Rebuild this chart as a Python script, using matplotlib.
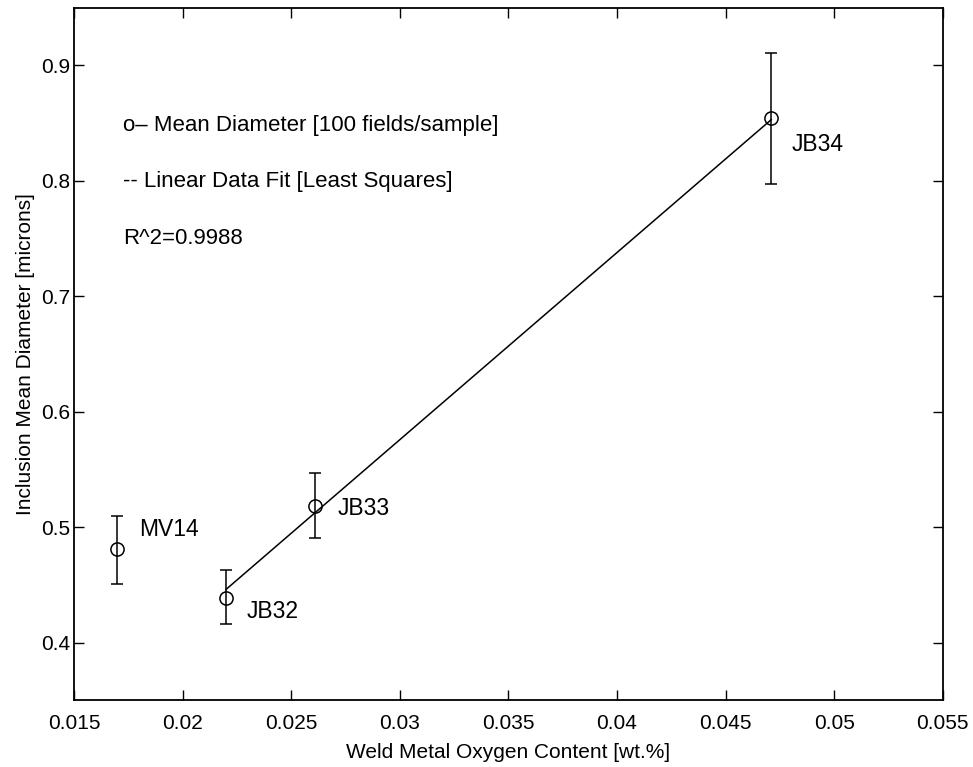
import matplotlib
matplotlib.use("Agg")
import matplotlib.pyplot as plt

plt.rcParams['font.family'] = ['Liberation Sans', 'DejaVu Sans']

# samples
samples = ["MV14", "JB32", "JB33", "JB34"]
oxygen = [0.017, 0.022, 0.0261, 0.0471]
diameter = [0.481, 0.439, 0.518, 0.854]
err_low = [0.030, 0.023, 0.027, 0.057]
err_high = [0.029, 0.024, 0.029, 0.057]

# least squares line, end points
fit_x = [0.022, 0.0471]
fit_y = [0.446, 0.853]

x_ticks = [0.015, 0.02, 0.025, 0.03, 0.035, 0.04, 0.045, 0.05, 0.055]
x_tick_labels = ["0.015", "0.02", "0.025", "0.03", "0.035", "0.04", "0.045", "0.05", "0.055"]
y_ticks = [0.4, 0.5, 0.6, 0.7, 0.8, 0.9]

notes = ["o\u2013 Mean Diameter [100 fields/sample]",
         "-- Linear Data Fit [Least Squares]",
         "R^2=0.9988"]
note_y = [0.848, 0.799, 0.750]

label_offsets = {"MV14": (16, 14), "JB32": (15, -10), "JB33": (16, -1.5), "JB34": (15, -19)}

fig = plt.figure(figsize=(9.73, 7.67), dpi=100)
ax = fig.add_axes([0.076, 0.087, 0.893, 0.903])

ax.errorbar(oxygen, diameter, yerr=[err_low, err_high], fmt='o', mfc='none',
            mec='black', ecolor='black', color='black', ms=9.5, mew=1.1,
            elinewidth=1.1, capsize=4, capthick=1.1)
ax.plot(fit_x, fit_y, color='black', lw=1.1)

for name, x, y in zip(samples, oxygen, diameter):
    ax.annotate(name, (x, y), xytext=label_offsets[name], textcoords='offset points',
                fontsize=16.5, va='center', ha='left')

for txt, y in zip(notes, note_y):
    ax.text(0.01725, y, txt, fontsize=16, va='center', ha='left')

ax.set_xlim(0.015, 0.055)
ax.set_ylim(0.35, 0.95)
ax.set_xticks(x_ticks)
ax.set_xticklabels(x_tick_labels)
ax.set_yticks(y_ticks)
ax.tick_params(direction='in', length=7, width=1, top=True, right=True, labelsize=15)
ax.tick_params(axis='x', pad=10)
ax.tick_params(axis='y', pad=3)
for s in ax.spines.values():
    s.set_linewidth(1.3)

ax.set_xlabel("Weld Metal Oxygen Content [wt.%]", fontsize=15, labelpad=7)
ax.set_ylabel("Inclusion Mean Diameter [microns]", fontsize=15, labelpad=4)

fig.savefig("out.png", dpi=100)
